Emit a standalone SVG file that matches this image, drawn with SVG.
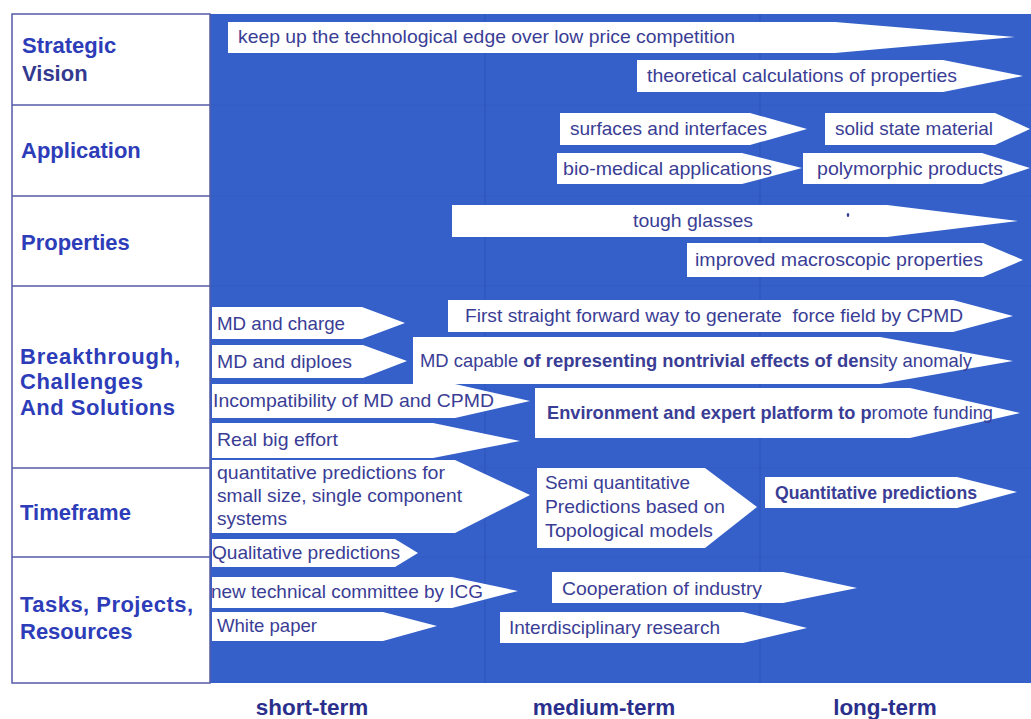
<svg xmlns="http://www.w3.org/2000/svg" width="1031" height="719" viewBox="0 0 1031 719">
  <style>
    .cat { font-family: "Liberation Sans", Arial, sans-serif; font-size: 22px; font-weight: bold; fill: #2d3cb8; }
    .catv { font-family: "Liberation Sans", Arial, sans-serif; font-size: 22px; font-weight: bold; fill: #33398f; }
    .term { font-family: "Liberation Sans", Arial, sans-serif; font-size: 22.5px; font-weight: bold; fill: #2b2f8c; text-anchor: middle; }
    .arrow { fill: #ffffff; }
    .t { font-family: "Liberation Sans", Arial, sans-serif; font-size: 18.5px; fill: #3a3d95; }
    .b { font-weight: bold; }
    .vgrid { stroke: #2a4fb4; stroke-width: 1.2; opacity: 0.55; }
    .hgrid { stroke: #2a4fb4; stroke-width: 1.2; opacity: 0.3; }
    .rowline { stroke: #555aa6; stroke-width: 1.5; }
  </style>

  <!-- canvas -->
  <rect x="0" y="0" width="1031" height="719" fill="#ffffff"/>

  <!-- timeline field -->
  <rect id="field" x="210" y="14" width="821" height="669" fill="#3660c9"/>
  <g id="grid">
    <line class="vgrid" x1="485" y1="14" x2="485" y2="683"/>
    <line class="vgrid" x1="760" y1="14" x2="760" y2="683"/>
    <line class="hgrid" x1="210" y1="105" x2="1031" y2="105"/>
    <line class="hgrid" x1="210" y1="196" x2="1031" y2="196"/>
    <line class="hgrid" x1="210" y1="286" x2="1031" y2="286"/>
    <line class="hgrid" x1="210" y1="468" x2="1031" y2="468"/>
    <line class="hgrid" x1="210" y1="557" x2="1031" y2="557"/>
  </g>

  <!-- category column -->
  <g id="categories">
    <rect x="12" y="14" width="198" height="669" fill="#ffffff" stroke="#555aa6" stroke-width="1.5"/>
    <line class="rowline" x1="12" y1="105" x2="210" y2="105"/>
    <line class="rowline" x1="12" y1="196" x2="210" y2="196"/>
    <line class="rowline" x1="12" y1="286" x2="210" y2="286"/>
    <line class="rowline" x1="12" y1="468" x2="210" y2="468"/>
    <line class="rowline" x1="12" y1="557" x2="210" y2="557"/>
    <g id="cat-vision">
      <text class="cat" x="22" y="53">Strategic</text>
      <text class="catv" x="22" y="81">Vision</text>
    </g>
    <g id="cat-application"><text class="cat" x="21" y="158">Application</text></g>
    <g id="cat-properties"><text class="cat" x="21" y="250">Properties</text></g>
    <g id="cat-breakthrough">
      <text class="cat" x="20" y="364" textLength="160" lengthAdjust="spacing">Breakthrough,</text>
      <text class="cat" x="20" y="389" textLength="123" lengthAdjust="spacing">Challenges</text>
      <text class="cat" x="20" y="415" textLength="155" lengthAdjust="spacing">And Solutions</text>
    </g>
    <g id="cat-timeframe"><text class="cat" x="20" y="520">Timeframe</text></g>
    <g id="cat-tasks">
      <text class="cat" x="20" y="612" textLength="173" lengthAdjust="spacing">Tasks, Projects,</text>
      <text class="cat" x="20" y="639">Resources</text>
    </g>
  </g>

  <!-- arrow items -->
  <g id="n-keep-edge">
    <polygon class="arrow" points="228,22 835,22 1015,37 835,53 228,53"/>
    <text class="t" x="238" y="43" textLength="497" lengthAdjust="spacingAndGlyphs">keep up the technological edge over low price competition</text>
  </g>
  <g id="n-theoretical">
    <polygon class="arrow" points="637,60 943,60 1023,76 943,92 637,92"/>
    <text class="t" x="647" y="82" textLength="310" lengthAdjust="spacingAndGlyphs">theoretical calculations of properties</text>
  </g>
  <g id="n-surfaces">
    <polygon class="arrow" points="560,113 750,113 807,129 750,145 560,145"/>
    <text class="t" x="570" y="135" textLength="197" lengthAdjust="spacingAndGlyphs">surfaces and interfaces</text>
  </g>
  <g id="n-solid-state">
    <polygon class="arrow" points="825,113 995,113 1030,129 995,145 825,145"/>
    <text class="t" x="835" y="135" textLength="158" lengthAdjust="spacingAndGlyphs">solid state material</text>
  </g>
  <g id="n-bio-medical">
    <polygon class="arrow" points="557,153 742,153 802,168 742,184 557,184"/>
    <text class="t" x="563" y="175" textLength="209" lengthAdjust="spacingAndGlyphs">bio-medical applications</text>
  </g>
  <g id="n-polymorphic">
    <polygon class="arrow" points="803,153 982,153 1030,168 982,184 803,184"/>
    <text class="t" x="817" y="175" textLength="186" lengthAdjust="spacingAndGlyphs">polymorphic products</text>
  </g>
  <g id="n-tough-glasses">
    <polygon class="arrow" points="452,205 887,205 1018,221 887,237 452,237"/>
    <text class="t" x="633" y="227" textLength="120" lengthAdjust="spacingAndGlyphs">tough glasses</text>
    <ellipse cx="848" cy="215" rx="1.3" ry="2" fill="#3a3d95"/>
  </g>
  <g id="n-macroscopic">
    <polygon class="arrow" points="687,243 983,243 1023,260 983,277 687,277"/>
    <text class="t" x="695" y="266" textLength="288" lengthAdjust="spacingAndGlyphs">improved macroscopic properties</text>
  </g>

  <g id="n-md-charge">
    <polygon class="arrow" points="212,307 362,307 405,323 362,339 212,339"/>
    <text class="t" x="217" y="330" textLength="128" lengthAdjust="spacingAndGlyphs">MD and charge</text>
  </g>
  <g id="n-md-diploes">
    <polygon class="arrow" points="212,345 363,345 407,361 363,378 212,378"/>
    <text class="t" x="217" y="368" textLength="135" lengthAdjust="spacingAndGlyphs">MD and diploes</text>
  </g>
  <g id="n-force-field">
    <polygon class="arrow" points="448,300 953,300 1013,316 953,332 448,332"/>
    <text class="t" x="465" y="322" textLength="498" lengthAdjust="spacingAndGlyphs" xml:space="preserve">First straight forward way to generate  force field by CPMD</text>
  </g>
  <g id="n-density-anomaly">
    <polygon class="arrow" points="413,337 880,337 1013,361 880,384 413,384"/>
    <text class="t" x="420" y="367" textLength="552" lengthAdjust="spacingAndGlyphs">MD capable <tspan class="b">of representing nontrivial effects of den</tspan>sity anomaly</text>
  </g>
  <g id="n-incompatibility">
    <polygon class="arrow" points="212,384 455,384 530,401 455,418 212,418"/>
    <text class="t" x="213" y="407" textLength="281" lengthAdjust="spacingAndGlyphs">Incompatibility of MD and CPMD</text>
  </g>
  <g id="n-environment">
    <polygon class="arrow" points="535,388 910,388 1020,413 910,438 535,438"/>
    <text class="t" x="547" y="419" textLength="446" lengthAdjust="spacingAndGlyphs"><tspan class="b">Environment and expert platform to p</tspan>romote funding</text>
  </g>
  <g id="n-big-effort">
    <polygon class="arrow" points="212,423 433,423 520,441 433,458 212,458"/>
    <text class="t" x="217" y="446" textLength="121" lengthAdjust="spacingAndGlyphs">Real big effort</text>
  </g>

  <g id="n-small-systems">
    <polygon class="arrow" points="212,460 455,460 530,495 455,533 212,533"/>
    <text class="t" x="217" y="479" textLength="228" lengthAdjust="spacingAndGlyphs">quantitative predictions for</text>
    <text class="t" x="217" y="502" textLength="245" lengthAdjust="spacingAndGlyphs">small size, single component</text>
    <text class="t" x="217" y="525" textLength="70" lengthAdjust="spacingAndGlyphs">systems</text>
  </g>
  <g id="n-qualitative">
    <polygon class="arrow" points="212,539 395,539 418,553 395,567 212,567"/>
    <text class="t" x="212" y="559" textLength="188" lengthAdjust="spacingAndGlyphs">Qualitative predictions</text>
  </g>
  <g id="n-semi-quantitative">
    <polygon class="arrow" points="537,468 705,468 757,507 705,548 537,548"/>
    <text class="t" x="545" y="489" textLength="145" lengthAdjust="spacingAndGlyphs">Semi quantitative</text>
    <text class="t" x="545" y="513" textLength="180" lengthAdjust="spacingAndGlyphs">Predictions based on</text>
    <text class="t" x="545" y="537" textLength="168" lengthAdjust="spacingAndGlyphs">Topological models</text>
  </g>
  <g id="n-quantitative">
    <polygon class="arrow" points="765,477 957,477 1017,492 957,508 765,508"/>
    <text class="t b" x="775" y="499" textLength="202" lengthAdjust="spacingAndGlyphs">Quantitative predictions</text>
  </g>

  <g id="n-committee">
    <polygon class="arrow" points="212,577 452,577 518,591 452,608 212,608"/>
    <text class="t" x="211" y="598" textLength="272" lengthAdjust="spacingAndGlyphs">new technical committee by ICG</text>
  </g>
  <g id="n-cooperation">
    <polygon class="arrow" points="552,572 783,572 857,588 783,603 552,603"/>
    <text class="t" x="562" y="595" textLength="200" lengthAdjust="spacingAndGlyphs">Cooperation of industry</text>
  </g>
  <g id="n-white-paper">
    <polygon class="arrow" points="212,612 383,612 437,626 383,641 212,641"/>
    <text class="t" x="217" y="632" textLength="100" lengthAdjust="spacingAndGlyphs">White paper</text>
  </g>
  <g id="n-interdisciplinary">
    <polygon class="arrow" points="500,612 743,612 807,628 743,643 500,643"/>
    <text class="t" x="509" y="634" textLength="211" lengthAdjust="spacingAndGlyphs">Interdisciplinary research</text>
  </g>

  <!-- time axis -->
  <g id="axis">
    <text class="term" x="312" y="715">short-term</text>
    <text class="term" x="604" y="715">medium-term</text>
    <text class="term" x="885" y="715">long-term</text>
  </g>
</svg>
